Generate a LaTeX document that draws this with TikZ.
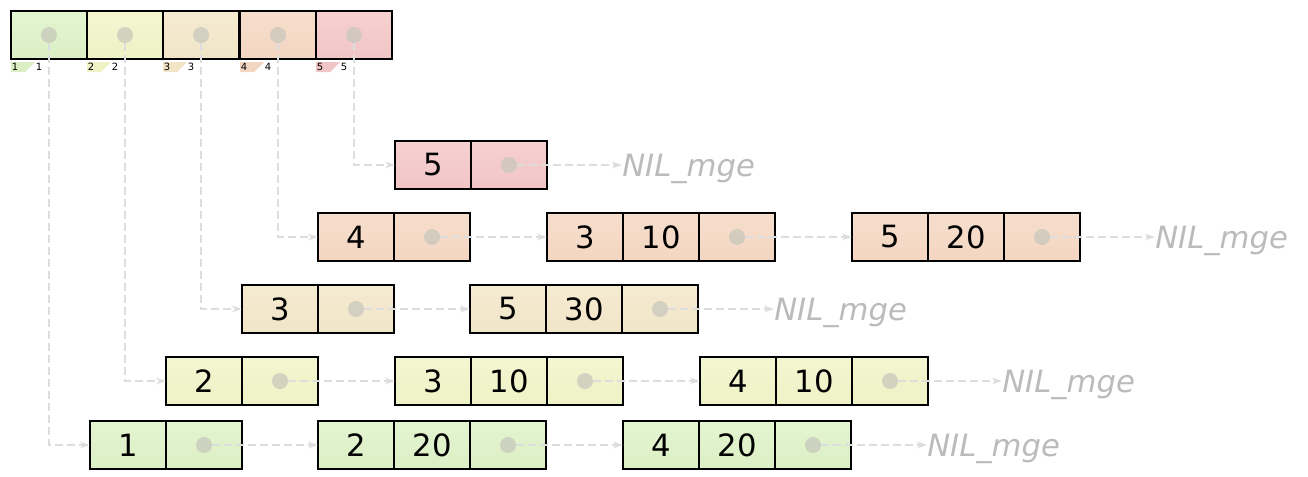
\documentclass[tikz,border=0pt]{standalone}
\usepackage{fontspec}
\setmainfont{DejaVu Sans}
\usetikzlibrary{arrows.meta}
\definecolor{greenT}{HTML}{E3F5D0}\definecolor{greenB}{HTML}{DBEFC5}
\definecolor{ygreenT}{HTML}{F3F6D0}\definecolor{ygreenB}{HTML}{EEF2C5}
\definecolor{tanT}{HTML}{F5EBD2}\definecolor{tanB}{HTML}{F1E5C6}
\definecolor{orangeT}{HTML}{F6DECC}\definecolor{orangeB}{HTML}{F3D6C2}
\definecolor{redT}{HTML}{F6D0D0}\definecolor{redB}{HTML}{F1C5C5}
\definecolor{linkgray}{HTML}{DDDDDD}
\definecolor{nilgray}{HTML}{BBBBBB}
\definecolor{dotgray}{HTML}{C8C8BC}
\begin{document}
\begin{tikzpicture}[x=0.75pt,y=-0.75pt,
  cell/.style={draw=black, line width=1.1pt, minimum width=57pt, minimum height=36pt,
    inner sep=0pt, outer sep=0pt, font=\fontsize{23}{27}\selectfont},
  cgreen/.style={top color=greenT, bottom color=greenB},
  cygreen/.style={top color=ygreenT, bottom color=ygreenB},
  ctan/.style={top color=tanT, bottom color=tanB},
  corange/.style={top color=orangeT, bottom color=orangeB},
  cred/.style={top color=redT, bottom color=redB},
  dot/.style={circle, fill=dotgray, fill opacity=0.75, minimum size=12pt, inner sep=0pt},
  link/.style={draw=linkgray, line width=1.5pt, dash pattern=on 5.5pt off 3.5pt,
    -{Stealth[length=7.5pt,width=5pt,fill=linkgray]}},
  nil/.style={anchor=base west, inner sep=0pt, text=nilgray, font=\fontsize{23}{27}\selectfont\itshape},
  small/.style={inner sep=0pt, font=\fontsize{7.5}{8}\selectfont}
]
\useasboundingbox (0,0) rectangle (1308,476);

% top array
\node[cell,cgreen]  (a1) at (49,35) {};
\node[cell,cygreen] (a2) at (125,35) {};
\node[cell,ctan]    (a3) at (201,35) {};
\node[cell,corange] (a4) at (278,35) {};
\node[cell,cred]    (a5) at (354,35) {};
\node[dot] (a1d) at (49,35) {};
\node[dot] (a2d) at (125,35) {};
\node[dot] (a3d) at (201,35) {};
\node[dot] (a4d) at (278,35) {};
\node[dot] (a5d) at (354,35) {};

% small index tabs
\fill[greenB]  (11,62) -- (35,62) -- (25,72) -- (11,72) -- cycle;
\fill[ygreenB] (87,62) -- (111,62) -- (101,72) -- (87,72) -- cycle;
\fill[tanB]    (163,62) -- (187,62) -- (177,72) -- (163,72) -- cycle;
\fill[orangeB] (240,62) -- (264,62) -- (254,72) -- (240,72) -- cycle;
\fill[redB]    (316,62) -- (340,62) -- (330,72) -- (316,72) -- cycle;
\node[small] (i1) at (15,67) {1};  \node[small] (v1) at (39,67) {1};
\node[small] (i2) at (91,67) {2};  \node[small] (v2) at (115,67) {2};
\node[small] (i3) at (167,67) {3}; \node[small] (v3) at (191,67) {3};
\node[small] (i4) at (244,67) {4}; \node[small] (v4) at (268,67) {4};
\node[small] (i5) at (320,67) {5}; \node[small] (v5) at (344,67) {5};

% row 5
\node[cell,cred] (r5a) at (433,165) {5};
\node[cell,cred] (r5ap) at (509,165) {};
\node[dot] (r5ad) at (509,165) {};
\node[nil] (nil5) at (622,176) {NIL\_mge};

% row 4
\node[cell,corange] (r4a) at (356,237) {4};
\node[cell,corange] (r4ap) at (432,237) {};
\node[dot] (r4ad) at (432,237) {};
\node[cell,corange] (r4b) at (585,237) {3};
\node[cell,corange] (r4bv) at (661,237) {10};
\node[cell,corange] (r4bp) at (737,237) {};
\node[dot] (r4bd) at (737,237) {};
\node[cell,corange] (r4c) at (890,237) {5};
\node[cell,corange] (r4cv) at (966,237) {20};
\node[cell,corange] (r4cp) at (1042,237) {};
\node[dot] (r4cd) at (1042,237) {};
\node[nil] (nil4) at (1155,248) {NIL\_mge};

% row 3
\node[cell,ctan] (r3a) at (280,309) {3};
\node[cell,ctan] (r3ap) at (356,309) {};
\node[dot] (r3ad) at (356,309) {};
\node[cell,ctan] (r3b) at (508,309) {5};
\node[cell,ctan] (r3bv) at (584,309) {30};
\node[cell,ctan] (r3bp) at (660,309) {};
\node[dot] (r3bd) at (660,309) {};
\node[nil] (nil3) at (774,320) {NIL\_mge};

% row 2
\node[cell,cygreen] (r2a) at (204,381) {2};
\node[cell,cygreen] (r2ap) at (280,381) {};
\node[dot] (r2ad) at (280,381) {};
\node[cell,cygreen] (r2b) at (433,381) {3};
\node[cell,cygreen] (r2bv) at (509,381) {10};
\node[cell,cygreen] (r2bp) at (585,381) {};
\node[dot] (r2bd) at (585,381) {};
\node[cell,cygreen] (r2c) at (738,381) {4};
\node[cell,cygreen] (r2cv) at (814,381) {10};
\node[cell,cygreen] (r2cp) at (890,381) {};
\node[dot] (r2cd) at (890,381) {};
\node[nil] (nil2) at (1002,392) {NIL\_mge};

% row 1
\node[cell,cgreen] (r1a) at (128,445) {1};
\node[cell,cgreen] (r1ap) at (204,445) {};
\node[dot] (r1ad) at (204,445) {};
\node[cell,cgreen] (r1b) at (356,445) {2};
\node[cell,cgreen] (r1bv) at (432,445) {20};
\node[cell,cgreen] (r1bp) at (508,445) {};
\node[dot] (r1bd) at (508,445) {};
\node[cell,cgreen] (r1c) at (661,445) {4};
\node[cell,cgreen] (r1cv) at (737,445) {20};
\node[cell,cgreen] (r1cp) at (813,445) {};
\node[dot] (r1cd) at (813,445) {};
\node[nil] (nil1) at (927,456) {NIL\_mge};

% links from array
\draw[link] (a1d) |- (r1a.west);
\draw[link] (a2d) |- (r2a.west);
\draw[link] (a3d) |- (r3a.west);
\draw[link] (a4d) |- (r4a.west);
\draw[link] (a5d) |- (r5a.west);

% list links
\draw[link] (r5ad) -- (nil5.west |- r5ad);
\draw[link] (r4ad) -- (r4b.west);
\draw[link] (r4bd) -- (r4c.west);
\draw[link] (r4cd) -- (nil4.west |- r4cd);
\draw[link] (r3ad) -- (r3b.west);
\draw[link] (r3bd) -- (nil3.west |- r3bd);
\draw[link] (r2ad) -- (r2b.west);
\draw[link] (r2bd) -- (r2c.west);
\draw[link] (r2cd) -- (nil2.west |- r2cd);
\draw[link] (r1ad) -- (r1b.west);
\draw[link] (r1bd) -- (r1c.west);
\draw[link] (r1cd) -- (nil1.west |- r1cd);
\end{tikzpicture}
\end{document}
